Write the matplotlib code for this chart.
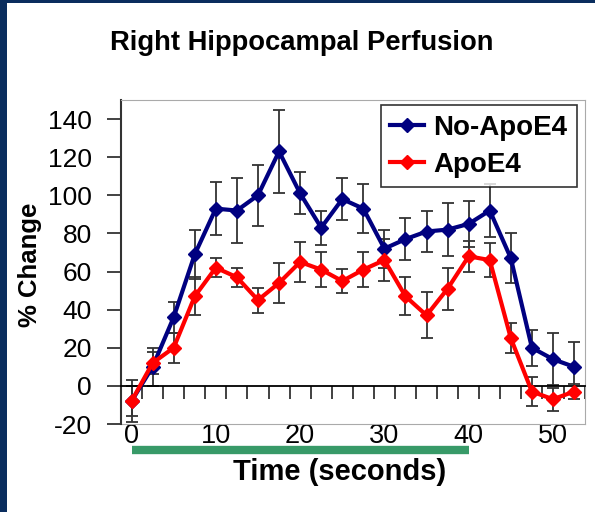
import numpy as np
import matplotlib.pyplot as plt
import matplotlib.patches as patches

plt.rcParams['font.family'] = ['Liberation Sans', 'DejaVu Sans']
plt.rcParams['axes.unicode_minus'] = False

# Час (секунди) та % зміни перфузії
time_s = [0, 2.5, 5, 7.5, 10, 12.5, 15, 17.5, 20, 22.5, 25,
          27.5, 30, 32.5, 35, 37.5, 40, 42.5, 45, 47.5, 50, 52.5]

no_apoe4 = [-8, 10, 36, 69, 93, 92, 100, 123, 101, 83, 98,
            93, 72, 77, 81, 82, 85, 92, 67, 20, 14, 10]
no_apoe4_err = [11, 10, 8, 13, 14, 17, 16, 22, 11, 9, 11,
                13, 10, 11, 11, 14, 12, 14, 13, 9.5, 13.5, 13]

apoe4 = [-8, 12, 20, 47, 62, 57, 45, 54, 65, 61, 55,
         61, 66, 47, 37, 51, 68, 66, 25, -3, -7, -3]
apoe4_err = [8, 6, 8, 10, 5, 5, 6.5, 10.5, 10.5, 9, 6.5,
             9, 11, 10, 12, 11, 8, 9, 8, 7.5, 6, 4]

x_labels = [0, 10, 20, 30, 40, 50]
y_ticks = [-20, 0, 20, 40, 60, 80, 100, 120, 140]
stim_period = [0, 40]

navy = '#0a2d5e'
fig = plt.figure(figsize=(5.95, 5.12), dpi=100)
fig.patch.set_facecolor('white')

# Рамка слайда (зліва та зверху)
fig.patches.append(patches.Rectangle((0, 0), 7 / 595, 1, transform=fig.transFigure,
                                     facecolor=navy, edgecolor='none'))
fig.patches.append(patches.Rectangle((0, 1 - 3 / 512), 1, 3 / 512, transform=fig.transFigure,
                                     facecolor=navy, edgecolor='none'))

ax = fig.add_axes([121 / 595, 88 / 512, 464 / 595, 324 / 512])

ax.errorbar(time_s, no_apoe4, yerr=no_apoe4_err, fmt='none', ecolor='#333333',
            elinewidth=1.3, capsize=4, capthick=1.3, zorder=2)
ax.errorbar(time_s, apoe4, yerr=apoe4_err, fmt='none', ecolor='#333333',
            elinewidth=1.3, capsize=4, capthick=1.3, zorder=2)
ax.plot(time_s, no_apoe4, color='#000080', lw=3, marker='D', ms=7, label='No-ApoE4', zorder=3)
ax.plot(time_s, apoe4, color='#ff0000', lw=3, marker='D', ms=7, label='ApoE4', zorder=4)

ax.set_xlim(-1.2, 53.8)
ax.set_ylim(-20, 150)

# Вісь X проходить через нуль, позначки між категоріями
ax.spines['bottom'].set_position(('data', 0))
ax.spines['bottom'].set_color('black')
ax.spines['bottom'].set_linewidth(1.3)
ax.set_xticks(np.arange(-1.25, 54, 2.5))
ax.tick_params(axis='x', direction='out', length=9, width=1.3, color='#333333', labelbottom=False)

ax.spines['left'].set_color('#333333')
ax.spines['left'].set_linewidth(1.5)
ax.spines['top'].set_color('#aaaaaa')
ax.spines['right'].set_color('#aaaaaa')
ax.set_yticks(y_ticks)
ax.tick_params(axis='y', direction='out', length=10, width=1.3, color='#333333',
               labelsize=19, pad=11)

sec = ax.secondary_xaxis(0.0)
sec.set_xticks(x_labels)
sec.tick_params(length=0, labelsize=19.5, pad=-1)
sec.spines['bottom'].set_color('#aaaaaa')

fig.text(340 / 595, 1 - 472 / 512, 'Time (seconds)', ha='center', va='center',
         fontsize=21, fontweight='bold')
fig.text(30 / 595, 1 - 265 / 512, '% Change', ha='center', va='center', rotation=90,
         fontsize=18.5, fontweight='bold')

# Період стимуляції
ax.plot(stim_period, [-0.08, -0.08], transform=ax.get_xaxis_transform(),
        color='#389a68', lw=6, solid_capstyle='butt', clip_on=False)

leg = ax.legend(loc='upper right', bbox_to_anchor=(0.983, 0.985),
                prop={'weight': 'bold', 'size': 20}, frameon=True, fancybox=False,
                edgecolor='black', handlelength=1.2, borderpad=0.35, labelspacing=0.4,
                handletextpad=0.35, borderaxespad=0)
leg.get_frame().set_linewidth(1.2)

fig.text(302 / 595, 1 - 43 / 512, 'Right Hippocampal Perfusion', ha='center', va='center',
         fontsize=19.7, fontweight='bold')

fig.savefig('out.png', dpi=100)
